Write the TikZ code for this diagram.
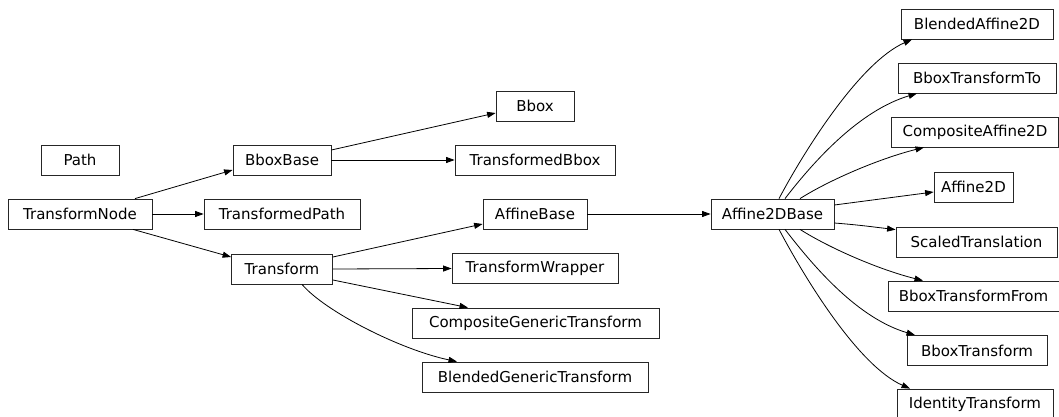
\documentclass[tikz,border=0pt]{standalone}
\usepackage{fontspec}
\setmainfont{DejaVu Sans}
\usetikzlibrary{arrows.meta}
\tikzset{
  cls/.style={draw=black!85, line width=0.8pt, minimum height=30pt, inner sep=0pt, font=\fontsize{15}{18}\selectfont},
  edge/.style={line width=0.8pt, -{Triangle[length=8.5pt,width=6pt]}}
}
\begin{document}
\begin{tikzpicture}[x=1pt,y=-1pt]
\useasboundingbox (0,0) rectangle (1059,417);
% left nodes
\node[cls, minimum width=78pt]  (path) at (80,160) {Path};
\node[cls, minimum width=144pt] (tn)   at (80,214) {TransformNode};
\node[cls, minimum width=98pt]  (bb)   at (282,160) {BboxBase};
\node[cls, minimum width=156pt] (tp)   at (282,214) {TransformedPath};
\node[cls, minimum width=101pt] (tr)   at (282,269) {Transform};
\node[cls, minimum width=78pt]  (bbox) at (535,106) {Bbox};
\node[cls, minimum width=160pt] (tbb)  at (535,160) {TransformedBbox};
\node[cls, minimum width=104pt] (ab)   at (535,214) {AffineBase};
\node[cls, minimum width=166pt] (tw)   at (535,268.5) {TransformWrapper};
\node[cls, minimum width=247pt] (cgt)  at (535.5,323) {CompositeGenericTransform};
\node[cls, minimum width=226pt] (bgt)  at (535,377) {BlendedGenericTransform};
\node[cls, minimum width=123pt] (a2b)  at (772.5,214) {Affine2DBase};
% right column
\node[cls, minimum width=152pt] (ba2)  at (977,24) {BlendedAffine2D};
\node[cls, minimum width=158pt] (btt)  at (977,78) {BboxTransformTo};
\node[cls, minimum width=167pt] (ca2)  at (975,132) {CompositeAffine2D};
\node[cls, minimum width=79pt]  (a2)   at (973.5,187) {Affine2D};
\node[cls, minimum width=161pt] (st)   at (976.5,242) {ScaledTranslation};
\node[cls, minimum width=171pt] (btf)  at (973.5,296) {BboxTransformFrom};
\node[cls, minimum width=140pt] (bt)   at (977,350.5) {BboxTransform};
\node[cls, minimum width=156pt] (it)   at (975,404) {IdentityTransform};
% edges
\draw[edge] ([xshift=55pt]tn.north) -- ([yshift=-10pt]bb.west);
\draw[edge] (tn.east) -- (tp.west);
\draw[edge] ([xshift=53pt]tn.south) -- ([yshift=12pt]tr.west);
\draw[edge] ([yshift=10pt]bb.east) -- ([yshift=-7pt]bbox.west);
\draw[edge] (bb.east) -- (tbb.west);
\draw[edge] ([yshift=12pt]tr.east) -- ([yshift=-10pt]ab.west);
\draw[edge] (tr.east) -- (tw.west);
\draw[edge] ([yshift=-11pt]tr.east) -- ([xshift=-67.5pt]cgt.north);
\draw[edge] ([xshift=20pt]tr.south) .. controls +(23,27) and +(-57,-12) .. ([xshift=-78pt]bgt.north);
\draw[edge] (ab.east) -- (a2b.west);
\draw[edge] ([xshift=6.5pt]a2b.north) .. controls +(26,-49) and +(-52,23) .. ([xshift=-65pt]ba2.south);
\draw[edge] ([xshift=12.5pt]a2b.north) .. controls +(30,-39) and +(-57,17) .. ([xshift=-60pt]btt.south);
\draw[edge] ([xshift=27.5pt]a2b.north) .. controls +(30,-19) and +(-44,11) .. ([xshift=-51pt]ca2.south);
\draw[edge] ([yshift=9pt]a2b.east) -- ([yshift=-5pt]a2.west);
\draw[edge] ([yshift=-9pt]a2b.east) .. controls +(25,2) and +(-25,-3) .. ([yshift=-3pt]st.north west);
\draw[edge] ([xshift=27.5pt]a2b.south) .. controls +(30,19) and +(-44,-11) .. ([xshift=-50.5pt]btf.north);
\draw[edge] ([xshift=12.5pt]a2b.south) .. controls +(30,39) and +(-57,-17) .. ([xshift=-62pt]bt.north);
\draw[edge] ([xshift=6.5pt]a2b.south) .. controls +(26,49) and +(-52,-23) .. ([xshift=-65pt]it.north);
\end{tikzpicture}
\end{document}
